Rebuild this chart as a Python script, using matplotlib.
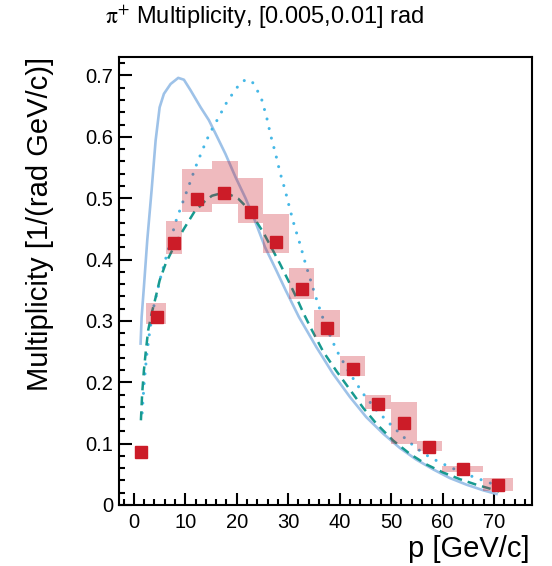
import matplotlib
matplotlib.use("Agg")
import matplotlib.pyplot as plt
from matplotlib.patches import Rectangle
from matplotlib.ticker import MultipleLocator, FuncFormatter

plt.rcParams["font.family"] = ["Liberation Sans", "DejaVu Sans"]
plt.rcParams["mathtext.fontset"] = "stix"

# ---------------- data ----------------
# measured points (bin centres) and systematic boxes
p_meas = [1.4, 4.4, 7.8, 12.2, 17.6, 22.7, 27.6, 32.6, 37.6, 42.5, 47.5, 52.5, 57.4, 63.9, 70.8]
mult = [0.086, 0.306, 0.427, 0.498, 0.509, 0.477, 0.429, 0.352, 0.289, 0.221, 0.165, 0.133, 0.094, 0.059, 0.033]
box_lo_x = [None, 2.4, 6.3, 9.3, 15.1, 20.2, 25.1, 30.1, 35.1, 40.1, 45.0, 50.0, 55.0, 59.9, 67.8]
box_hi_x = [None, 6.3, 9.3, 15.1, 20.2, 25.1, 30.1, 35.1, 40.1, 45.0, 50.0, 55.0, 59.9, 67.8, 73.8]
box_lo_y = [None, 0.295, 0.409, 0.477, 0.490, 0.459, 0.411, 0.335, 0.274, 0.210, 0.156, 0.100, 0.088, 0.054, 0.023]
box_hi_y = [None, 0.329, 0.462, 0.547, 0.560, 0.533, 0.474, 0.386, 0.317, 0.243, 0.180, 0.168, 0.104, 0.064, 0.044]

# model curves
solid_p = [1.3, 1.5, 1.94, 2.59, 3.44, 4.22, 5.0, 5.83, 7.13, 8.62, 9.72, 11.0, 12.97, 14.58,
           15.88, 17.8, 19.77, 21.7, 23.4, 25.5, 27.7, 29.5, 32.1, 35.5, 38.7, 42.0, 45.2, 48.5,
           51.7, 54.9, 58.2, 61.4, 64.7, 67.9, 70.5]
solid_m = [0.263, 0.306, 0.355, 0.431, 0.513, 0.594, 0.648, 0.670, 0.686, 0.696, 0.693, 0.676, 0.648, 0.627,
           0.605, 0.572, 0.534, 0.500, 0.466, 0.420, 0.382, 0.350, 0.306, 0.257, 0.214, 0.176, 0.143, 0.116,
           0.093, 0.074, 0.058, 0.044, 0.033, 0.024, 0.018]

dot_p = [1.6, 2.0, 2.5, 3.1, 3.9, 5.19, 6.8, 8.1, 9.39, 10.8, 12.0, 13.3, 14.7, 16.5, 17.9, 19.8,
         21.2, 22.1, 22.9, 23.9, 24.8, 25.8, 26.6, 27.55, 28.4, 29.4, 30.3, 31.2, 32.3, 33.4,
         34.5, 35.7, 37.1, 39.4, 42.0, 44.6, 47.2, 49.8, 52.4, 55.0, 57.5, 60.1, 62.7, 65.3,
         67.9, 70.5]
dot_m = [0.150, 0.200, 0.245, 0.285, 0.325, 0.371, 0.420, 0.461, 0.491, 0.523, 0.551, 0.578, 0.605, 0.632, 0.654, 0.678,
         0.691, 0.693, 0.691, 0.677, 0.662, 0.632, 0.602, 0.572, 0.542, 0.513, 0.483, 0.455, 0.425, 0.392,
         0.362, 0.330, 0.296, 0.252, 0.214, 0.181, 0.154, 0.132, 0.111, 0.092, 0.078, 0.067, 0.057, 0.048,
         0.040, 0.032]

dash_p = [1.36, 1.6, 1.94, 2.33, 2.78, 3.44, 4.22, 5.0, 6.16, 6.8, 8.2, 9.72, 11.7, 13.9, 15.2, 17.0,
          18.6, 20.3, 21.6, 23.5, 25.1, 26.7, 28.4, 30.0, 31.6, 33.0, 34.6, 36.8, 39.4, 42.0, 44.6,
          47.2, 50.4, 53.7, 56.9, 60.1, 63.4, 66.6, 69.9, 71.0]
dash_m = [0.138, 0.181, 0.219, 0.252, 0.285, 0.312, 0.338, 0.366, 0.393, 0.404, 0.428, 0.450, 0.477, 0.496, 0.504, 0.508,
          0.506, 0.499, 0.488, 0.466, 0.445, 0.420, 0.393, 0.366, 0.338, 0.312, 0.285, 0.250, 0.218, 0.188, 0.158,
          0.132, 0.105, 0.083, 0.066, 0.053, 0.042, 0.033, 0.025, 0.022]

RED = "#cc1c28"

# ---------------- figure ----------------
fig = plt.figure(figsize=(5.52, 5.66), dpi=100)
ax = fig.add_axes([119 / 552, 1 - 505 / 566, 413 / 552, 448 / 566])

ax.plot(solid_p, solid_m, color="#9ec2e8", lw=1.9, zorder=2)
ax.plot(dot_p, dot_m, color="#45b8e6", lw=2.2, ls=(0, (0.01, 3.2)),
        dash_capstyle="round", zorder=3)
ax.plot(dash_p, dash_m, color="#179a90", lw=1.8, ls=(0, (3.6, 2.4)), zorder=4)

for x0, x1, y0, y1 in zip(box_lo_x, box_hi_x, box_lo_y, box_hi_y):
    if x0 is None:
        continue
    ax.add_patch(Rectangle((x0, y0), x1 - x0, y1 - y0, facecolor=RED, alpha=0.3,
                           edgecolor="none", zorder=5))
ax.plot(p_meas, mult, ls="none", marker="s", ms=8.8, color=RED, mec=RED, zorder=6)

ax.set_xlim(-2.9, 77.4)
ax.set_ylim(0, 0.73)
ax.xaxis.set_major_locator(MultipleLocator(10))
ax.xaxis.set_minor_locator(MultipleLocator(2))
ax.yaxis.set_major_locator(MultipleLocator(0.1))
ax.yaxis.set_minor_locator(MultipleLocator(0.02))
ax.xaxis.set_major_formatter(FuncFormatter(lambda v, _: "%d" % round(v)))
ax.yaxis.set_major_formatter(FuncFormatter(lambda v, _: "0" if abs(v) < 1e-9 else "%.1f" % v))
ax.tick_params(which="both", direction="in", width=1.5, labelsize=14.5, top=False, right=False)
ax.tick_params(which="major", length=9)
ax.tick_params(which="minor", length=4.5)
ax.tick_params(axis="x", pad=6)
ax.tick_params(axis="y", pad=4)
for s in ax.spines.values():
    s.set_linewidth(1.5)

ax.text(0.995, -0.098, "p [GeV/c]", transform=ax.transAxes, ha="right", va="center", fontsize=21)
ax.text(-0.191, 1.0, "Multiplicity [1/(rad GeV/c)]", transform=ax.transAxes, rotation=90,
        ha="center", va="top", fontsize=21)
fig.text(0.48, 0.969, r"$\mathrm{\pi}^{+}$ Multiplicity, [0.005,0.01] rad", ha="center", va="center",
         fontsize=17)

fig.savefig("out.png", dpi=100)
